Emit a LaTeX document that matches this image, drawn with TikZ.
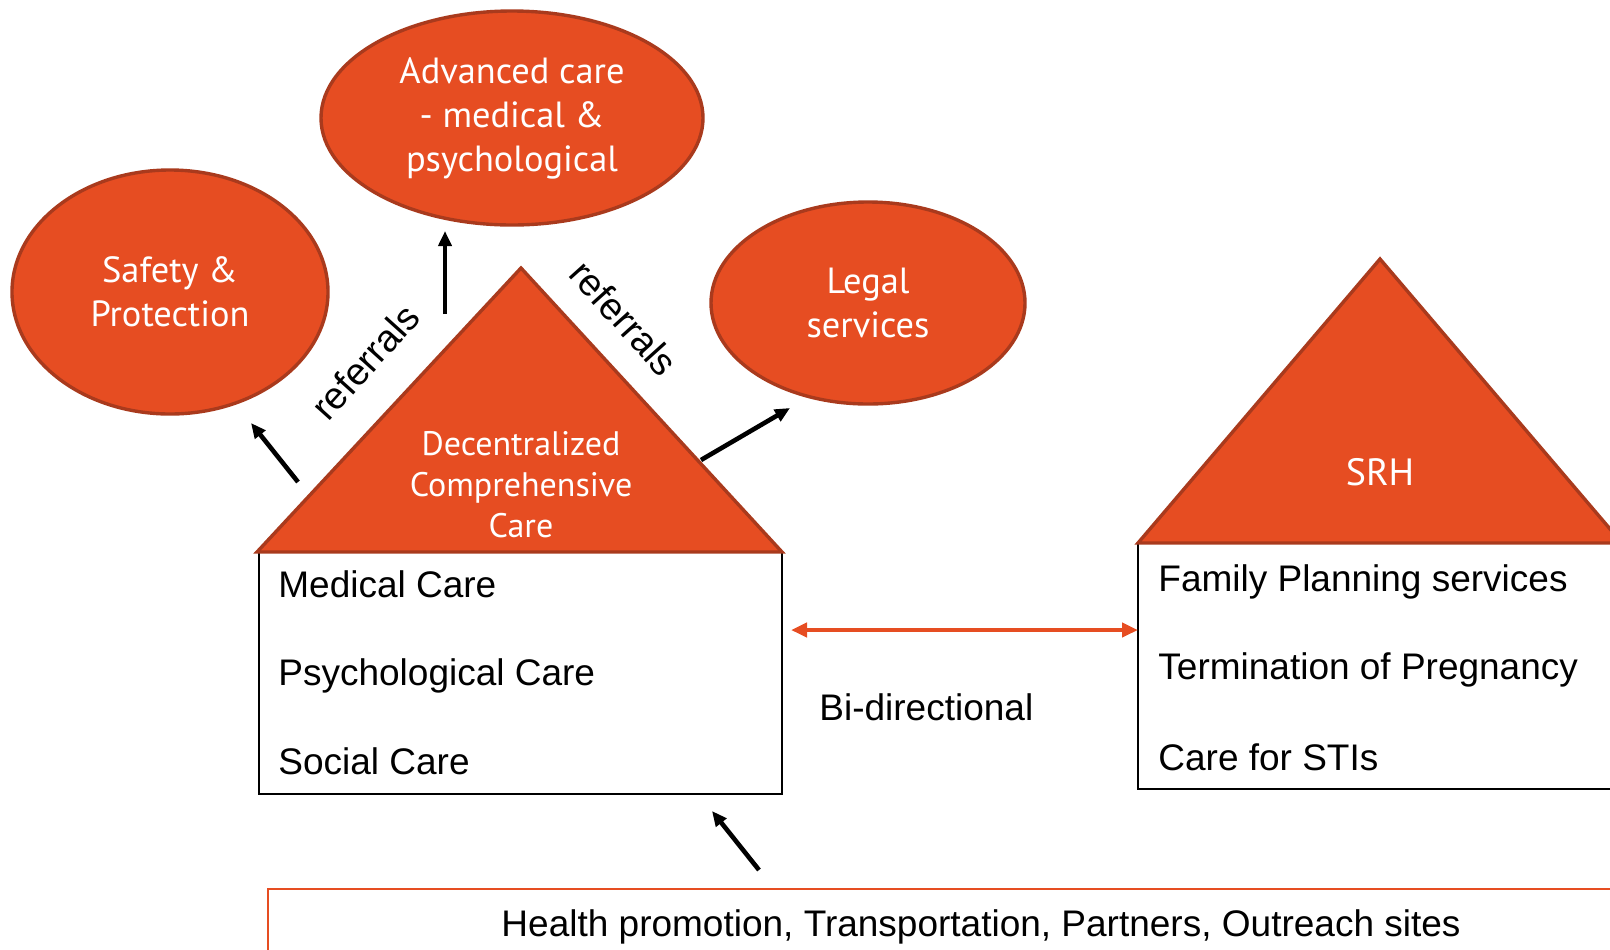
\documentclass[tikz,border=0pt]{standalone}
\usepackage{fontspec}
\setmainfont{Liberation Sans}
\newfontfamily\gill{PT Sans}
\usetikzlibrary{shapes.geometric,arrows.meta}
\definecolor{brand}{HTML}{E64D22}
\definecolor{brandedge}{HTML}{A93A1D}
\begin{document}
\begin{tikzpicture}[x=0.5pt,y=-0.5pt,
  bubble/.style={ellipse, fill=brand, draw=brandedge, line width=1.7pt, inner sep=0pt, text=white, font=\gill\fontsize{18.2}{22}\selectfont, align=center},
  roof/.style={fill=brand, draw=brandedge, line width=1.7pt, line join=miter},
  rooftext/.style={text=white, font=\gill\fontsize{17}{20.5}\selectfont, align=center, inner sep=0pt},
  listbox/.style={draw=black, line width=1.4pt},
  item/.style={anchor=west, font=\fontsize{18.5}{22}\selectfont, inner sep=0pt},
  reflabel/.style={font=\fontsize{19}{22}\selectfont, inner sep=0pt},
  refarrow/.style={line width=2.3pt, -{Triangle[length=7.5pt,width=6.5pt]}},
  bidir/.style={draw=brand, line width=2pt, {Triangle[length=8pt,width=7pt]}-{Triangle[length=8pt,width=7pt]}},
  outerbox/.style={draw=brand, line width=1.2pt},
]
\useasboundingbox (0,0) rectangle (1610,949);
\clip (0,0) rectangle (1610,949);

% ellipses
\node[bubble, minimum width=158pt, minimum height=122pt] (safety) at (170,292) {Safety \&\\Protection};
\node[bubble, minimum width=191pt, minimum height=107pt] (advanced) at (512,118) {Advanced care\\- medical \&\\psychological};
\node[bubble, minimum width=157pt, minimum height=101pt] (legal) at (868,303) {Legal\\services};

% left house
\draw[listbox] (259,552) rectangle (782,794);
\draw[roof] (257,552) -- (521,268) -- (782,552) -- cycle;
\node[rooftext] (dcc) at (521,485) {Decentralized\\Comprehensive\\Care};
\node[item] (med) at (278,584) {Medical Care};
\node[item] (psy) at (278,676) {Psychological Care};
\node[item] (soc) at (278,761) {Social Care};

% right house
\draw[listbox] (1138,543) rectangle (1700,789);
\draw[roof] (1138,543) -- (1380,259) -- (1622,543) -- cycle;
\node[rooftext, font=\gill\fontsize{19}{22}\selectfont] (srh) at (1380,472) {SRH};
\node[item] (fp) at (1158,582) {Family Planning services};
\node[item] (top) at (1158,670) {Termination of Pregnancy};
\node[item] (sti) at (1158,757) {Care for STIs};

% bottom box
\draw[outerbox] (268,889) rectangle (1700,1000);
\node[font=\fontsize{18.5}{22}\selectfont, inner sep=0pt] (hp) at (981,927) {Health promotion, Transportation, Partners, Outreach sites};

% arrows
\coordinate (upS) at (445,314); \coordinate (upE) at (445,231);
\coordinate (lS) at (298,482);  \coordinate (lE) at (251,423);
\coordinate (rS) at (701,460);  \coordinate (rE) at (790,408);
\coordinate (bS) at (759,870);  \coordinate (bE) at (712,811);
\draw[refarrow] (upS) -- (upE);
\draw[refarrow] (lS) -- (lE);
\draw[refarrow] (rS) -- (rE);
\draw[refarrow] (bS) -- (bE);

\coordinate (biL) at (791,630); \coordinate (biR) at (1138,630);
\draw[bidir] (biL) -- (biR);
\node[item] (bi) at (819,707) {Bi-directional};

\node[reflabel, rotate=48] (refL) at (365,362) {referrals};
\node[reflabel, rotate=-48] (refR) at (624,318) {referrals};
\end{tikzpicture}
\end{document}
